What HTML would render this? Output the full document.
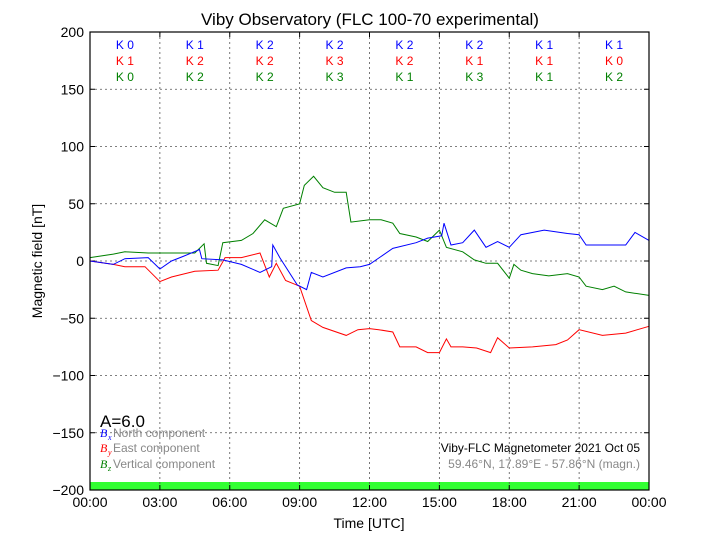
<!DOCTYPE html>
<html><head><meta charset="utf-8"><style>
body{margin:0;background:#fff;}
svg{display:block;font-family:"Liberation Sans",sans-serif;}
</style></head><body>
<svg id="chart" width="720" height="540"></svg>
<script>
const xTickLabels=["00:00","03:00","06:00","09:00","12:00","15:00","18:00","21:00","00:00"];
const yTicks=[200,150,100,50,0,-50,-100,-150,-200];
const kBx=[0,1,2,2,2,2,1,1];
const kBy=[1,2,2,3,2,1,1,0];
const kBz=[0,2,2,3,1,3,1,2];
const bxTimes=[0,1,1.5,2.5,3,3.5,4,4.7,4.8,5.7,6.5,7.3,7.8,7.85,8.15,8.9,9.3,9.5,10,11,11.6,12,13,14,14.5,15.1,15.2,15.5,16,16.5,17,17.5,18,18.5,19.5,20.5,21,21.3,22,23,23.4,24];
const bxValues=[0,-3,2,3,-7,0,4,10,2,1,-3,-10,-5,14,3,-21,-25,-10,-14,-6,-5,-3,11,16,20,22,33,14,16,27,12,17,12,23,27,24,23,14,14,14,25,18];
const byTimes=[0,1,1.5,2.36,3,3.5,4.5,5.5,5.8,6.5,7.3,7.7,8,8.4,9,9.5,10,11,11.5,12,12.4,13,13.3,14,14.5,15,15.3,15.5,16,16.6,17.2,17.5,18,19,20,20.5,21,22,23,24];
const byValues=[0,-3,-5,-5,-18,-14,-9,-8,3,3,7,-14,-2,-17,-22,-52,-58,-65,-60,-59,-60,-62,-75,-75,-80,-80,-68,-75,-75,-76,-80,-67,-76,-75,-73,-69,-60,-65,-63,-57];
const bzTimes=[0,1,1.5,2.5,3.5,4.5,4.9,5,5.5,5.7,6.5,7,7.5,8,8.3,9,9.2,9.6,10,10.5,11,11.2,12,12.5,13,13.3,14,14.5,15,15.3,16,16.5,17,17.5,18,18.2,18.5,19,19.7,20.5,21,21.3,22,22.5,23,24];
const bzValues=[3,6,8,7,7,7,15,-2,-4,16,18,24,36,30,46,50,66,74,64,60,60,34,36,36,33,24,21,17,27,12,8,1,-2,-2,-15,-3,-8,-11,-13,-11,-14,-22,-25,-22,-27,-30];

const svg=document.getElementById('chart');
const NS='http://www.w3.org/2000/svg';
const X0=90,X1=649,Y0=32,Y1=490;
const xs=h=>X0+(X1-X0)*h/24;
const ys=v=>Y0+(Y1-Y0)*(200-v)/400;
function mk(tag,attrs,parent){const e=document.createElementNS(NS,tag);for(const k in attrs)e.setAttribute(k,attrs[k]);(parent||svg).appendChild(e);return e;}
function txt(s,x,y,size,fill,anchor){const t=mk('text',{x:x,y:y,'font-size':size,fill:fill,'text-anchor':anchor||'start'});t.textContent=s;return t;}

// green status bar
const bar=mk('rect',{x:X0,y:482,width:X1-X0,height:8,fill:'#33ff33'});


// grid
yTicks.forEach(v=>{if(v===200||v===-200)return;const l=mk('line',{x1:X0,x2:X1,y1:ys(v),y2:ys(v),stroke:'#555','stroke-dasharray':'2,3','stroke-width':0.8});

});
xTickLabels.forEach((s,i)=>{const x=xs(i*3);if(i>0&&i<8){const l=mk('line',{x1:x,x2:x,y1:Y0,y2:Y1,stroke:'#555','stroke-dasharray':'2,3','stroke-width':0.8});

}
mk('line',{x1:x,x2:x,y1:Y1,y2:Y1-5,stroke:'#000'});mk('line',{x1:x,x2:x,y1:Y0,y2:Y0+5,stroke:'#000'});
const t=txt(s,x,507,14,'#000','middle');

});
yTicks.forEach(v=>{const y=ys(v);mk('line',{x1:X0,x2:X0+5,y1:y,y2:y,stroke:'#000'});mk('line',{x1:X1,x2:X1-5,y1:y,y2:y,stroke:'#000'});
const t=txt(String(v).replace('-','\u2212'),84,y+5,14,'#000','end');

});
// series
function line(times,vals,color,name){let d='';times.forEach((h,i)=>{d+=(i?'L':'M')+xs(h).toFixed(1)+','+ys(vals[i]).toFixed(1);});
const p=mk('path',{d:d,fill:'none',stroke:color,'stroke-width':1});

}
line(bzTimes,bzValues,'#008000','bz-line');
line(byTimes,byValues,'#ff0000','by-line');
line(bxTimes,bxValues,'#0000ff','bx-line');
// frame
const fr=mk('rect',{x:X0,y:Y0,width:X1-X0,height:Y1-Y0,fill:'none',stroke:'#000','stroke-width':1.2});


// K indices
[[kBx,'#0000ff',49],[kBy,'#ff0000',65],[kBz,'#008000',81]].forEach(([arr,c,y])=>{arr.forEach((k,i)=>{const t=txt('K '+k,xs(i*3+1.5),y,12,c,'middle');

});});
// title & labels
const ti=txt('Viby Observatory (FLC 100-70 experimental)',370,25,17,'#000','middle');


const xl=txt('Time [UTC]',369,528,14,'#000','middle');


const yl=txt('Magnetic field [nT]',0,0,14,'#000','middle');yl.setAttribute('transform','translate(42,261) rotate(-90)');


const a=txt('A=6.0',100,427,17,'#000');


[['B','x','#0000ff',' North component',437],['B','y','#ff0000',' East component',452],['B','z','#008000',' Vertical component',468]].forEach(([b,s,c,l,y])=>{
const g=mk('g',{});


const t1=mk('text',{x:100,y:y,'font-size':12,fill:c,'font-style':'italic','font-family':'Liberation Serif,serif'},g);t1.textContent=b;
const t2=mk('text',{x:108,y:y+3,'font-size':8,fill:c,'font-style':'italic','font-family':'Liberation Serif,serif'},g);t2.textContent=s;
const t3=mk('text',{x:113,y:y,'font-size':12,fill:'#888'},g);t3.textContent=l;});
const m1=txt('Viby-FLC Magnetometer 2021 Oct 05',640,452,12,'#000','end');


const m2=txt('59.46°N, 17.89°E - 57.86°N (magn.)',640,468,12,'#888','end');


</script>
</body></html>
